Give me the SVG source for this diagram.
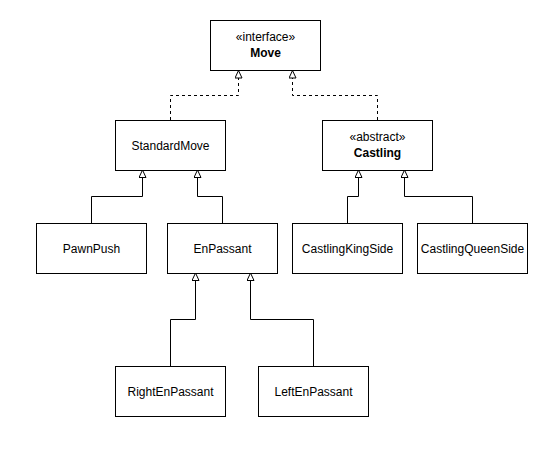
<svg xmlns="http://www.w3.org/2000/svg" width="550" height="450" viewBox="0 0 550 450">
<defs>
<marker id="tri" markerWidth="10" markerHeight="10" refX="8" refY="4" orient="auto" markerUnits="userSpaceOnUse">
<path d="M0.5,0.5 L8,4 L0.5,7.5 Z" fill="#ffffff" stroke="#000000" stroke-width="1"/>
</marker>
<style>
.box{fill:#ffffff;stroke:#000000;stroke-width:1}
.t{font-family:"Liberation Sans",Arial,Helvetica,sans-serif;font-size:12px;fill:#000000;text-anchor:middle}
.b{font-weight:bold}
.c{fill:none;stroke:#000000;stroke-width:1;marker-end:url(#tri)}
.d{stroke-dasharray:3,3}
</style>
</defs>
<rect width="550" height="450" fill="#ffffff"/>
<g id="connectors">
<path class="c d" d="M170.5,120 V95.5 H238.5 V70.5"/>
<path class="c d" d="M377.5,120 V95.5 H292.5 V70.5"/>
<path class="c" d="M91.5,223 V196.5 H142.5 V170"/>
<path class="c" d="M222.5,223 V196.5 H197.5 V170"/>
<path class="c" d="M347.5,223 V196.5 H358.5 V170"/>
<path class="c" d="M472.5,223 V196.5 H404.5 V170"/>
<path class="c" d="M170.5,366 V319.5 H195.5 V273"/>
<path class="c" d="M313.5,366 V319.5 H250.5 V273"/>
</g>
<g id="Move">
<rect class="box" x="210.5" y="20.5" width="110" height="50"/>
<text class="t" x="265.5" y="41">«interface»</text>
<text class="t b" x="265.5" y="57">Move</text>
</g>
<g id="StandardMove">
<rect class="box" x="115.5" y="120.5" width="110" height="50"/>
<text class="t" x="170.5" y="149.5">StandardMove</text>
</g>
<g id="Castling">
<rect class="box" x="322.5" y="120.5" width="110" height="50"/>
<text class="t" x="377.5" y="141">«abstract»</text>
<text class="t b" x="377.5" y="157">Castling</text>
</g>
<g id="PawnPush">
<rect class="box" x="36.5" y="223.5" width="110" height="50"/>
<text class="t" x="91.5" y="252.5">PawnPush</text>
</g>
<g id="EnPassant">
<rect class="box" x="167.5" y="223.5" width="110" height="50"/>
<text class="t" x="222.5" y="252.5">EnPassant</text>
</g>
<g id="CastlingKingSide">
<rect class="box" x="292.5" y="223.5" width="110" height="50"/>
<text class="t" x="347.5" y="252.5">CastlingKingSide</text>
</g>
<g id="CastlingQueenSide">
<rect class="box" x="417.5" y="223.5" width="110" height="50"/>
<text class="t" x="472.5" y="252.5">CastlingQueenSide</text>
</g>
<g id="RightEnPassant">
<rect class="box" x="115.5" y="366.5" width="110" height="50"/>
<text class="t" x="170.5" y="395.5">RightEnPassant</text>
</g>
<g id="LeftEnPassant">
<rect class="box" x="258.5" y="366.5" width="110" height="50"/>
<text class="t" x="313.5" y="395.5">LeftEnPassant</text>
</g>
</svg>
